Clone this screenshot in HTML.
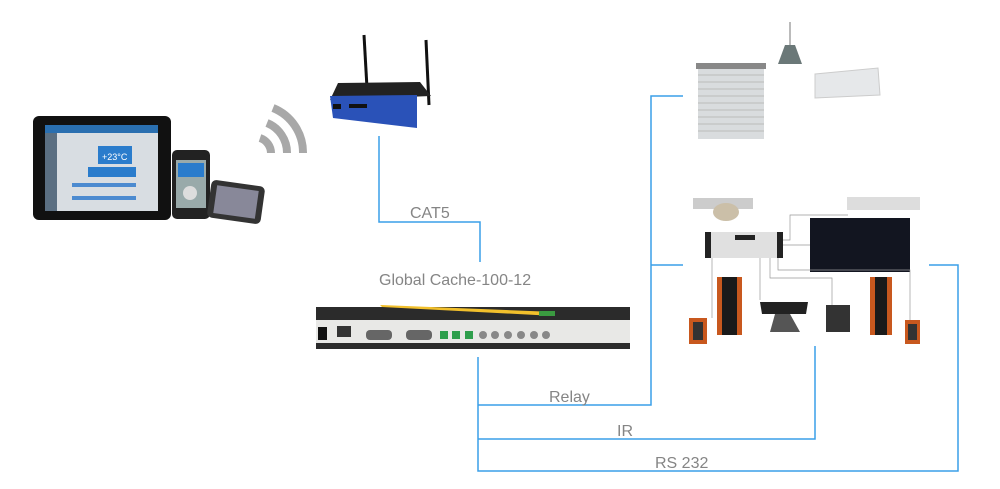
<!DOCTYPE html>
<html><head><meta charset="utf-8"><style>
html,body{margin:0;padding:0;background:#fff;}
svg{display:block}
text{font-family:"Liberation Sans",sans-serif;fill:#858585;}
</style></head><body>
<svg width="1000" height="489" viewBox="0 0 1000 489" xmlns="http://www.w3.org/2000/svg">
<!-- tablet -->
<rect x="33" y="116" width="138" height="104" rx="6" fill="#111"/>
<rect x="45" y="125" width="113" height="86" fill="#d8dde2"/>
<rect x="45" y="125" width="113" height="8" fill="#2a6fb0"/>
<rect x="45" y="133" width="12" height="78" fill="#5b6f82"/>
<rect x="98" y="146" width="34" height="18" fill="#2a7ccc"/>
<text x="102" y="160" font-size="9" style="fill:#fff">+23°C</text>
<rect x="88" y="167" width="48" height="10" fill="#2a7ccc"/>
<rect x="72" y="183" width="64" height="4" fill="#4b8ad0"/>
<rect x="72" y="196" width="64" height="4" fill="#4b8ad0"/>
<!-- phone -->
<rect x="172" y="150" width="38" height="69" rx="5" fill="#222"/>
<rect x="176" y="160" width="30" height="48" fill="#9aa"/>
<rect x="178" y="163" width="26" height="14" fill="#2a7ccc"/>
<circle cx="190" cy="193" r="7" fill="#ddd"/>
<!-- iphone sideways -->
<rect x="209" y="183" width="54" height="38" rx="5" fill="#333" transform="rotate(8 236 202)"/>
<rect x="215" y="188" width="42" height="28" fill="#889" transform="rotate(8 236 202)"/>
<!-- wifi -->
<g fill="none" stroke="#a8a8a8" stroke-width="8">
<path d="M260 138 A16 16 0 0 1 271 153"/>
<path d="M267 123 A32 32 0 0 1 287 153"/>
<path d="M273 108 A48 48 0 0 1 303 153"/>
</g>
<!-- router -->
<line x1="364" y1="35" x2="367" y2="88" stroke="#111" stroke-width="3"/>
<line x1="426" y1="40" x2="429" y2="105" stroke="#111" stroke-width="3"/>
<polygon points="338,83 420,82 431,96 330,100" fill="#222"/>
<polygon points="330,96 417,95 417,128 333,118" fill="#2a52b8"/>
<rect x="333" y="104" width="8" height="5" fill="#111"/>
<rect x="349" y="104" width="18" height="4" fill="#111"/>
<!-- global cache device -->
<rect x="316" y="307" width="314" height="14" fill="#2b2b2b"/>
<rect x="316" y="320" width="314" height="24" fill="#e8e8e6"/>
<rect x="316" y="343" width="314" height="6" fill="#2b2b2b"/>
<polygon points="380,305 555,312 555,316 382,307" fill="#f2c02c"/>
<rect x="539" y="311" width="16" height="5" fill="#3a9a40"/>
<rect x="318" y="327" width="9" height="13" fill="#111"/>
<rect x="337" y="326" width="14" height="11" fill="#333"/>
<rect x="366" y="330" width="26" height="10" rx="4" fill="#666"/>
<rect x="406" y="330" width="26" height="10" rx="4" fill="#666"/>
<rect x="440" y="331" width="8" height="8" fill="#2e9e4c"/>
<rect x="452" y="331" width="8" height="8" fill="#2e9e4c"/>
<rect x="465" y="331" width="8" height="8" fill="#2e9e4c"/>
<g fill="#888"><circle cx="483" cy="335" r="4"/><circle cx="495" cy="335" r="4"/><circle cx="508" cy="335" r="4"/><circle cx="521" cy="335" r="4"/><circle cx="534" cy="335" r="4"/><circle cx="546" cy="335" r="4"/></g>
<!-- blinds -->
<rect x="696" y="63" width="70" height="6" fill="#888"/>
<rect x="698" y="69" width="66" height="70" fill="#d9dcde"/>
<g stroke="#bbb" stroke-width="1"><line x1="698" y1="75" x2="764" y2="75"/><line x1="698" y1="82" x2="764" y2="82"/><line x1="698" y1="89" x2="764" y2="89"/><line x1="698" y1="96" x2="764" y2="96"/><line x1="698" y1="103" x2="764" y2="103"/><line x1="698" y1="110" x2="764" y2="110"/><line x1="698" y1="117" x2="764" y2="117"/><line x1="698" y1="124" x2="764" y2="124"/><line x1="698" y1="131" x2="764" y2="131"/></g>
<!-- lamp -->
<line x1="790" y1="22" x2="790" y2="46" stroke="#777"/>
<polygon points="785,45 795,45 802,64 778,64" fill="#6b7878"/>
<!-- AC -->
<polygon points="815,74 878,68 880,95 815,98" fill="#e6e8ea" stroke="#ccc"/>
<!-- AV system -->
<rect x="693" y="198" width="60" height="11" fill="#ccc"/>
<ellipse cx="726" cy="212" rx="13" ry="9" fill="#cbbfa8"/>
<rect x="847" y="197" width="73" height="13" fill="#ddd"/>
<rect x="705" y="232" width="78" height="26" fill="#e0e0e0"/>
<rect x="705" y="232" width="6" height="26" fill="#222"/>
<rect x="777" y="232" width="6" height="26" fill="#222"/>
<rect x="735" y="235" width="20" height="5" fill="#222"/>
<rect x="810" y="218" width="100" height="54" fill="#121520"/>
<g stroke="#999" fill="none" stroke-width="0.7"><path d="M783 245 L810 245"/><path d="M712 258 L712 318"/><path d="M760 258 L760 300"/><path d="M770 258 L770 278 L832 278 L832 305"/><path d="M778 258 L778 270 L910 270 L910 320"/><path d="M783 240 L790 240 L790 215 L848 215"/></g>
<rect x="717" y="277" width="25" height="58" fill="#1a1a1a"/><rect x="717" y="277" width="5" height="58" fill="#c8581e"/><rect x="737" y="277" width="5" height="58" fill="#c8581e"/>
<rect x="689" y="318" width="18" height="26" fill="#c8581e"/><rect x="693" y="322" width="10" height="18" fill="#333"/>
<polygon points="760,302 808,302 806,314 762,314" fill="#222"/><polygon points="775,314 790,314 800,332 770,332" fill="#555"/>
<rect x="826" y="305" width="24" height="27" fill="#333"/>
<rect x="870" y="277" width="22" height="58" fill="#1a1a1a"/><rect x="870" y="277" width="5" height="58" fill="#c8581e"/><rect x="887" y="277" width="5" height="58" fill="#c8581e"/>
<rect x="905" y="320" width="15" height="24" fill="#c8581e"/><rect x="908" y="324" width="9" height="16" fill="#333"/>
<!-- connector lines -->
<g fill="none" stroke="#3a9fe8" stroke-width="1.5">
<path d="M379 136 V222 H480 V262"/>
<path d="M478 357 V471 H958 V265 H929"/>
<path d="M478 405 H651 V96 H683"/>
<path d="M651 265 H683"/>
<path d="M478 439 H815 V346"/>
</g>
<text x="410" y="218" font-size="16">CAT5</text>
<text x="379" y="285" font-size="16">Global Cache-100-12</text>
<text x="549" y="402" font-size="16">Relay</text>
<text x="617" y="436" font-size="16">IR</text>
<text x="655" y="468" font-size="16">RS 232</text>
</svg>
</body></html>
